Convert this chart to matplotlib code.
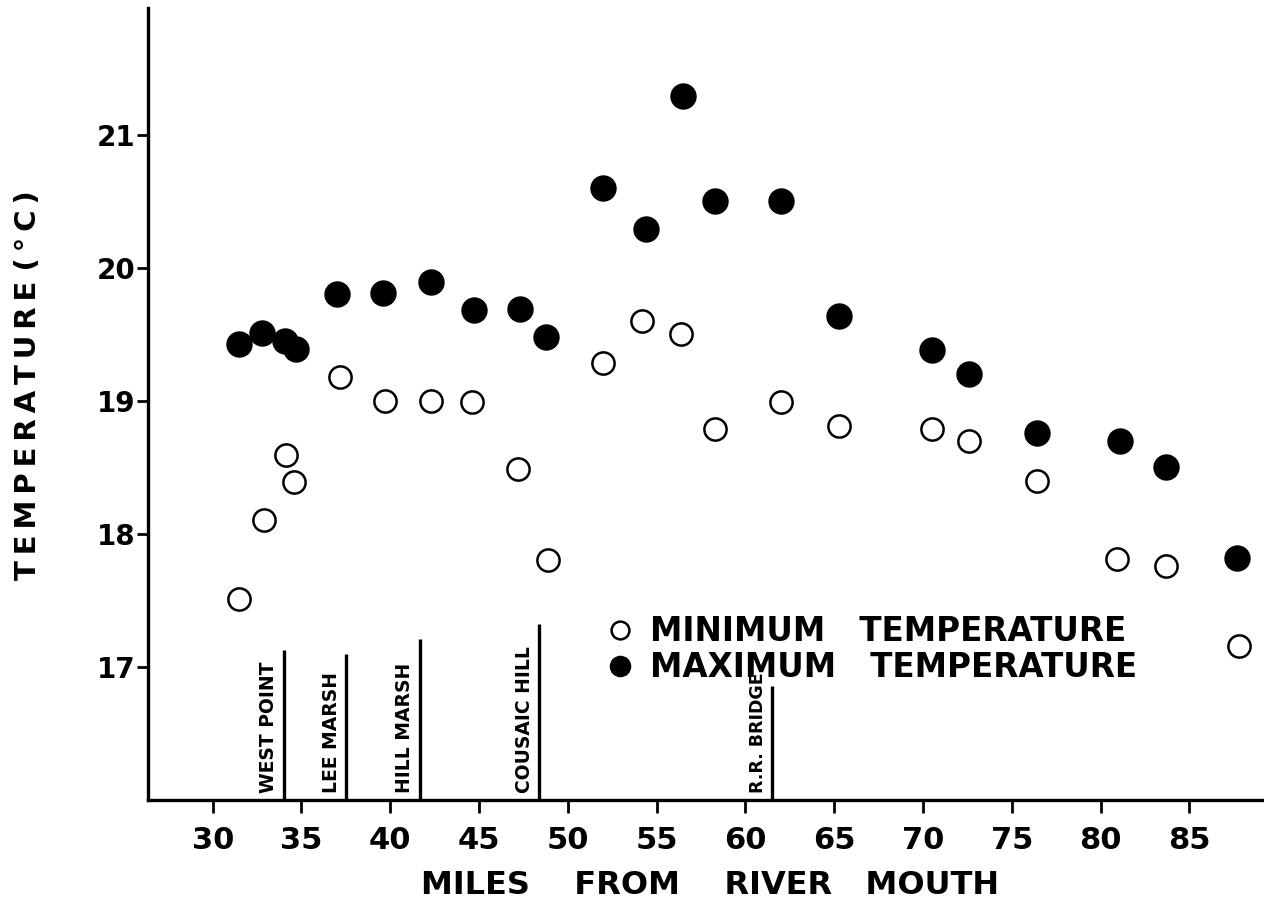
import numpy as np
import matplotlib
matplotlib.use('Agg')
import matplotlib.pyplot as plt

# temperature along the river, miles from the mouth
miles_max = [31.5, 32.8, 34.05, 34.7, 37.0, 39.6, 42.3, 44.7, 47.3, 48.75, 52.0, 54.4,
             56.5, 58.3, 62.0, 65.25, 70.5, 72.6, 76.4, 81.1, 83.7, 87.7]
temp_max = [19.43, 19.51, 19.45, 19.39, 19.80, 19.81, 19.89, 19.68, 19.69, 19.48, 20.60, 20.29,
            21.29, 20.50, 20.50, 19.64, 19.38, 19.20, 18.76, 18.70, 18.50, 17.82]

miles_min = [31.5, 32.9, 34.1, 34.55, 37.15, 39.7, 42.3, 44.6, 47.2, 48.9, 52.0, 54.2,
             56.35, 58.3, 62.0, 65.25, 70.5, 72.6, 76.4, 80.9, 83.7, 87.8]
temp_min = [17.51, 18.10, 18.59, 18.39, 19.18, 19.00, 19.00, 18.99, 18.49, 17.80, 19.28, 19.60,
            19.50, 18.79, 18.99, 18.81, 18.79, 18.70, 18.40, 17.81, 17.76, 17.16]

# landmarks along the river (position, height of the marker line)
places = ['WEST POINT', 'LEE MARSH', 'HILL MARSH', 'COUSAIC HILL', 'R.R. BRIDGE']
place_miles = [34.0, 37.5, 41.65, 48.4, 61.5]
place_top = [17.13, 17.10, 17.21, 17.32, 16.86]

THIN = '\u2009'


def spaced(s, gap=THIN, word_gap=' '):
    # spread the letters out like stencil lettering
    return word_gap.join(gap.join(w) for w in s.split())


plt.rcParams['font.family'] = 'DejaVu Sans'
plt.rcParams['font.weight'] = 'bold'

fig = plt.figure(figsize=(12.64, 9.08), dpi=100)
ax = fig.add_axes([0.117, 0.119, 0.883, 0.872])

ax.plot(miles_max, temp_max, 'o', ms=17.5, mfc='black', mec='black', mew=1.5,
        linestyle='none', label='MAXIMUM   TEMPERATURE')
ax.plot(miles_min, temp_min, 'o', ms=16, mfc='white', mec='black', mew=1.8,
        linestyle='none', label='MINIMUM   TEMPERATURE')

ymin = 16.0
for name, m, top in zip(places, place_miles, place_top):
    ax.plot([m, m], [ymin, top], color='black', lw=2.4, solid_capstyle='butt')
    # the bridge label is lettered a bit smaller so it stays under the key
    fs = 12.5 if name.startswith('R.R.') else 13.5
    ax.text(m - 0.3, ymin + 0.05, name, rotation=90, ha='right', va='bottom',
            fontsize=fs, fontweight='bold')

ax.set_xlim(26.35, 89.2)
ax.set_ylim(ymin, 21.95)
ax.set_xticks(np.arange(30, 90, 5))
ax.set_yticks([17, 18, 19, 20, 21])
ax.tick_params(axis='x', direction='out', length=9, width=2, labelsize=22, pad=10)
ax.tick_params(axis='y', direction='out', length=8, width=2, labelsize=20, pad=1)

for s in ['top', 'right']:
    ax.spines[s].set_visible(False)
for s in ['left', 'bottom']:
    ax.spines[s].set_linewidth(2.4)

fig.text(710 / 1264, 1 - 885 / 908, 'MILES    FROM    RIVER   MOUTH',
         fontsize=23, fontweight='bold', ha='center', va='center')
fig.text(28 / 1264, 1 - 385 / 908, spaced('TEMPERATURE (°C)'),
         fontsize=21, fontweight='bold', rotation=90, ha='center', va='center')

h, l = ax.get_legend_handles_labels()
leg = ax.legend(h[::-1], l[::-1], loc='upper left', bbox_to_anchor=(0.4, 0.254),
                frameon=False, fontsize=23.5, markerscale=0.8, handlelength=0.6,
                handletextpad=0.6, labelspacing=0.1, borderpad=0)

fig.savefig('out.png', dpi=100)
